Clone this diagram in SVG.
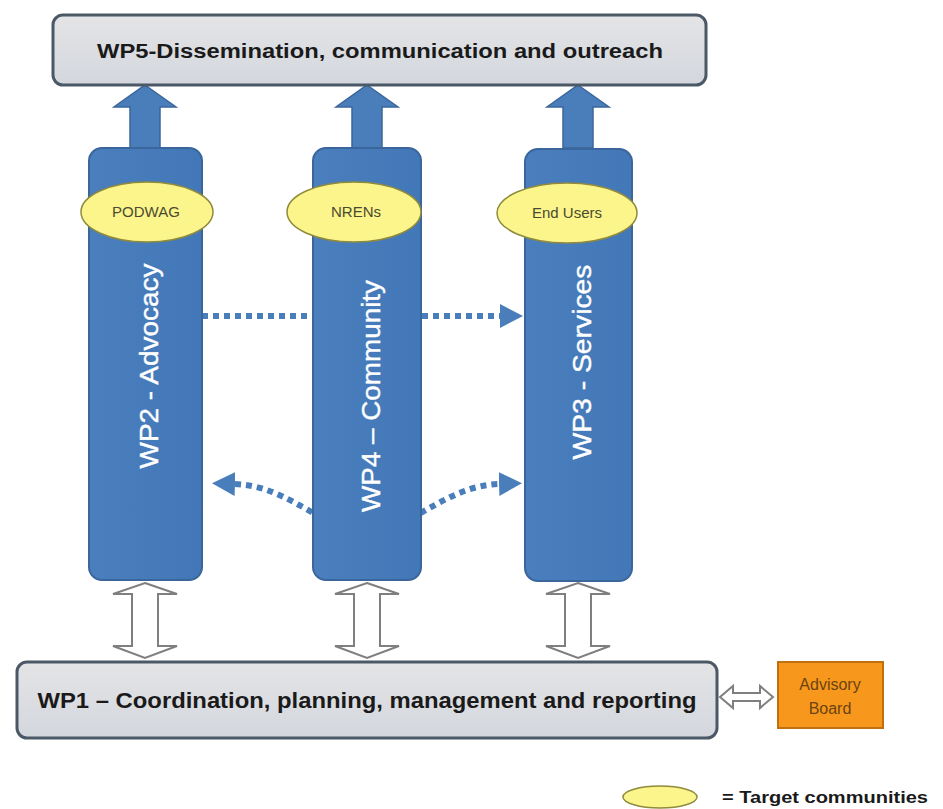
<svg xmlns="http://www.w3.org/2000/svg" width="943" height="809" viewBox="0 0 943 809">
<defs>
<linearGradient id="greyGrad" x1="0" y1="0" x2="0" y2="1">
<stop offset="0" stop-color="#e4e4e6"/>
<stop offset="1" stop-color="#d3d7dd"/>
</linearGradient>
<linearGradient id="blueGrad" x1="0" y1="0" x2="1" y2="0">
<stop offset="0" stop-color="#4a7ebd"/>
<stop offset="1" stop-color="#4378b8"/>
</linearGradient>
<marker id="tri" markerUnits="userSpaceOnUse" markerWidth="24" markerHeight="26" refX="0" refY="12" orient="auto-start-reverse" viewBox="0 0 24 24">
<path d="M0,0 L23,12 L0,24 z" fill="#4a7ebb"/>
</marker>
<path id="upArrow" d="M0,0 L31,22 L15,22 L15,63 L-15,63 L-15,22 L-31,22 Z"/>
<path id="dblArrow" d="M0,0 L32,11 L13,11 L13,63 L32,63 L0,75 L-32,63 L-13,63 L-13,11 L-32,11 Z"/>
</defs>
<style>
.grey{fill:url(#greyGrad);stroke:#4b5866;stroke-width:3}
.col{fill:url(#blueGrad);stroke:#3a669b;stroke-width:2}
.up{fill:#4a7ebb;stroke:#3a669b;stroke-width:1.5}
.dbl{fill:#ffffff;stroke:#7f7f7f;stroke-width:2}
.ell{fill:#fbf58c;stroke:#8f8a3c;stroke-width:1.5}
.elltxt{font-family:"Liberation Sans",Arial,sans-serif;font-size:15px;fill:#4a4a30;text-anchor:middle}
.coltxt{font-family:"Liberation Sans",Arial,sans-serif;font-size:26px;fill:#ffffff;text-anchor:middle;stroke:#ffffff;stroke-width:0.4}
.boxtxt{font-family:"Liberation Sans",Arial,sans-serif;font-weight:bold;fill:#1a1a1a;text-anchor:middle}
.dot{fill:none;stroke:#4a7ebb;stroke-width:6;stroke-dasharray:6 5}
</style>
<rect width="943" height="809" fill="#ffffff"/>

<g id="connectors">
<path class="dot" d="M202,316 L500,316" marker-end="url(#tri)"/>
<path class="dot" d="M235,484 C290,486 320,530 367,530 C414,530 444,486 499,484" marker-start="url(#tri)" marker-end="url(#tri)"/>
<use href="#upArrow" class="up" transform="translate(145,85)"/>
<use href="#upArrow" class="up" transform="translate(367,85)"/>
<use href="#upArrow" class="up" transform="translate(578,85)"/>
<use href="#dblArrow" class="dbl" transform="translate(145,583)"/>
<use href="#dblArrow" class="dbl" transform="translate(367,583)"/>
<use href="#dblArrow" class="dbl" transform="translate(578,583)"/>
<path class="dbl" d="M720,697 L733,686 L733,693 L760,693 L760,686 L773,697 L760,708 L760,701 L733,701 L733,708 Z"/>
</g>

<g id="wp5">
<rect class="grey" x="53" y="15" width="653" height="70" rx="10"/>
<text class="boxtxt" x="380" y="58" font-size="20" textLength="566" lengthAdjust="spacingAndGlyphs">WP5-Dissemination, communication and outreach</text>
</g>

<g id="wp2">
<rect class="col" x="89" y="148" width="113" height="432" rx="13"/>
<text class="coltxt" transform="translate(158,366) rotate(-90)" textLength="205" lengthAdjust="spacingAndGlyphs">WP2 - Advocacy</text>
</g>
<g id="wp4">
<rect class="col" x="313" y="148" width="108" height="432" rx="13"/>
<text class="coltxt" transform="translate(380,396) rotate(-90)" textLength="232" lengthAdjust="spacingAndGlyphs">WP4 – Community</text>
</g>
<g id="wp3">
<rect class="col" x="525" y="149" width="107" height="432" rx="13"/>
<text class="coltxt" transform="translate(591,362) rotate(-90)" textLength="195" lengthAdjust="spacingAndGlyphs">WP3 - Services</text>
</g>

<g id="podwag">
<ellipse class="ell" cx="147" cy="212" rx="66" ry="30"/>
<text class="elltxt" x="146" y="217">PODWAG</text>
</g>
<g id="nrens">
<ellipse class="ell" cx="354" cy="212" rx="67" ry="30"/>
<text class="elltxt" x="356" y="217">NRENs</text>
</g>
<g id="endusers">
<ellipse class="ell" cx="567" cy="213" rx="70" ry="30"/>
<text class="elltxt" x="567" y="218">End Users</text>
</g>

<g id="wp1">
<rect class="grey" x="17" y="662" width="700" height="76" rx="10"/>
<text class="boxtxt" x="367" y="708" font-size="22" textLength="659" lengthAdjust="spacingAndGlyphs">WP1 – Coordination, planning, management and reporting</text>
</g>

<g id="advisory">
<rect x="778" y="662" width="105" height="66" fill="#f7981d" stroke="#c0700e" stroke-width="2"/>
<text x="830" y="690" font-family="'Liberation Sans',Arial,sans-serif" font-size="16" fill="#6b4310" text-anchor="middle">Advisory</text>
<text x="830" y="714" font-family="'Liberation Sans',Arial,sans-serif" font-size="16" fill="#6b4310" text-anchor="middle">Board</text>
</g>

<g id="legend">
<ellipse class="ell" cx="660" cy="797" rx="37" ry="11"/>
<text x="722" y="803" font-family="'Liberation Sans',Arial,sans-serif" font-weight="bold" font-size="16" fill="#1a1a1a" textLength="206" lengthAdjust="spacingAndGlyphs">= Target communities</text>
</g>
</svg>
